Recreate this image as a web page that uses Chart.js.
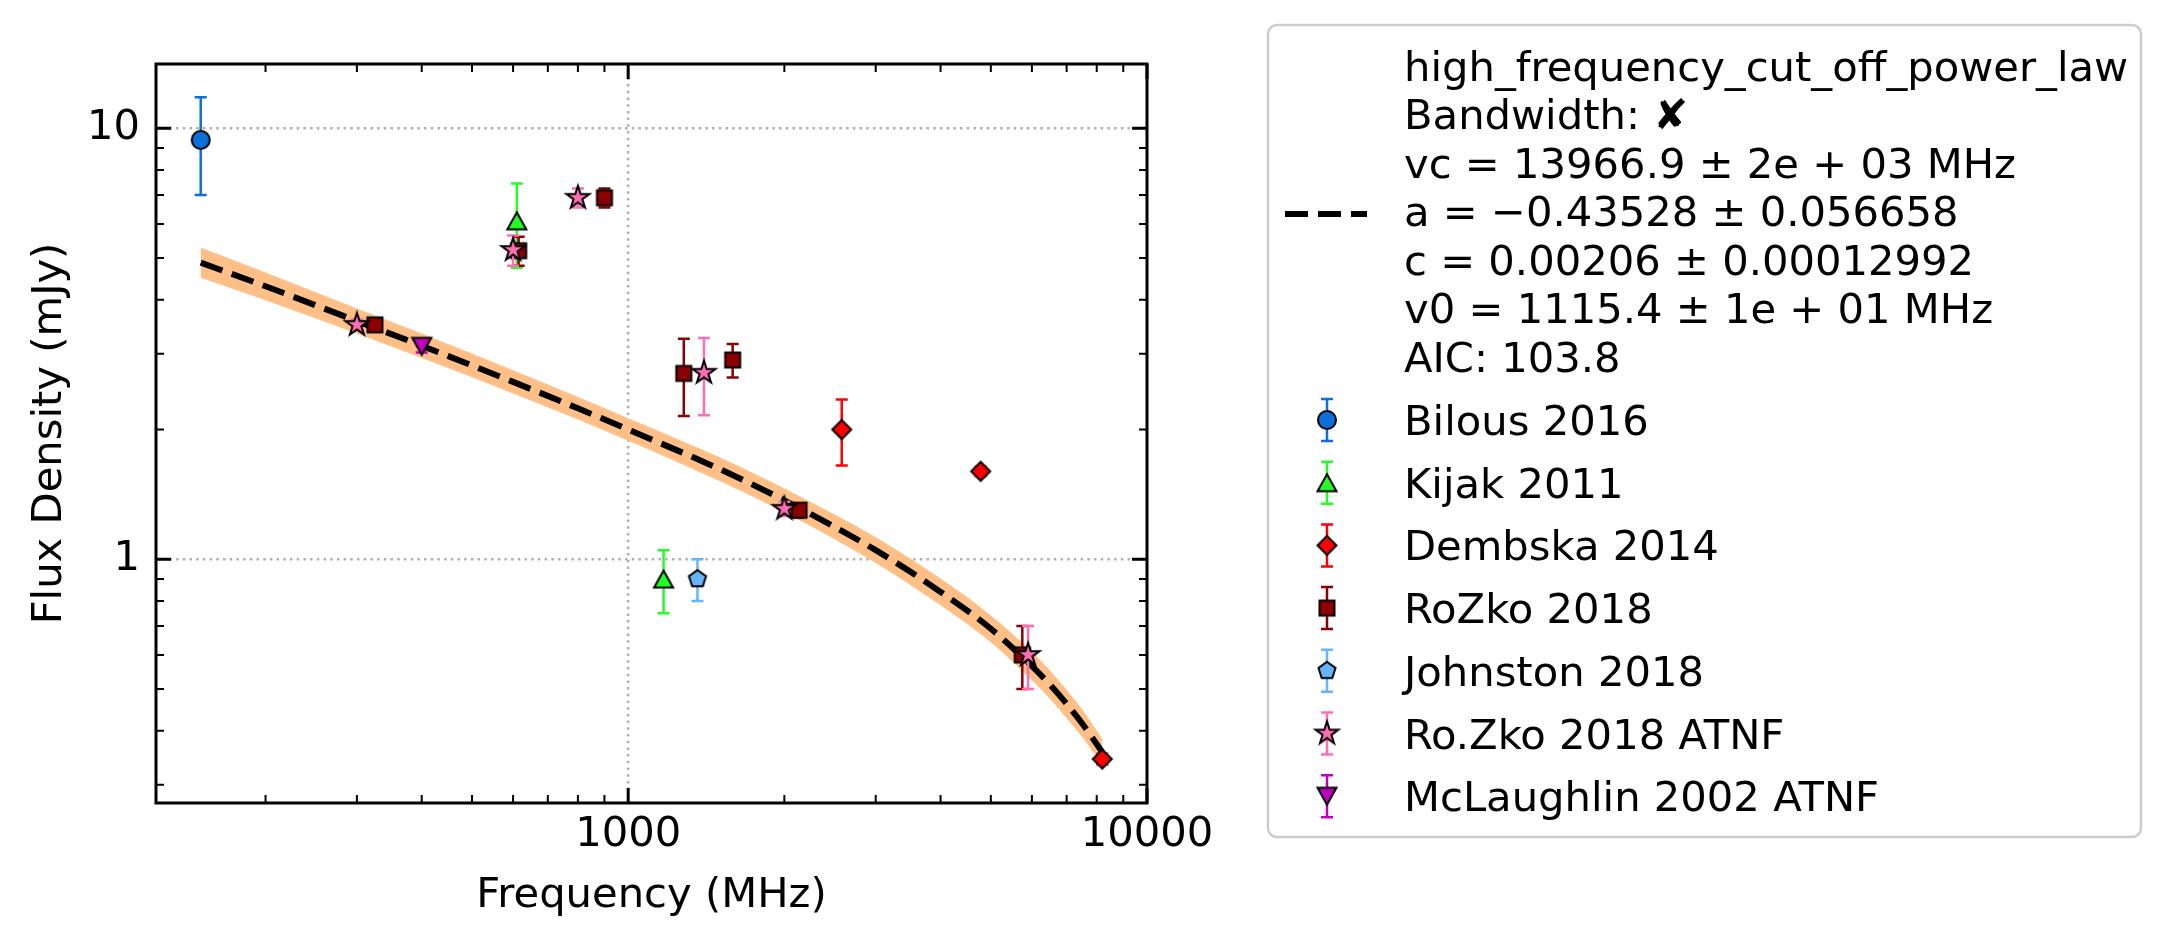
<!DOCTYPE html>
<html>
<head>
<meta charset="utf-8">
<script src="https://cdn.jsdelivr.net/npm/chart.js@4.4.1/dist/chart.umd.min.js"></script>
<style>
  html, body { margin: 0; padding: 0; background: #fff; }
</style>
</head>
<body>
<canvas id="myChart" width="2172" height="948"></canvas>
<script>
// measured points (MHz, mJy, +/- mJy)
var bilousFreq = [150], bilousFlux = [9.4], bilousErr = [2.4]
var kijakFreq = [610, 1170], kijakFlux = [6.1, 0.9], kijakErr = [1.35, 0.15]
var dembskaFreq = [2580, 4780, 8200], dembskaFlux = [2.0, 1.6, 0.344], dembskaErr = [0.35, 0.04, 0.01]
var rozkoFreq = [325, 615, 900, 1280, 1590, 2135, 5750]
var rozkoFlux = [3.5, 5.2, 6.9, 2.7, 2.9, 1.3, 0.6]
var rozkoErr = [0.08, 0.4, 0.35, 0.55, 0.26, 0.05, 0.1]
var johnstonFreq = [1360], johnstonFlux = [0.9], johnstonErr = [0.1]
var rozkoAtnfFreq = [300, 600, 800, 1400, 2000, 5900]
var rozkoAtnfFlux = [3.5, 5.22, 6.9, 2.71, 1.31, 0.6]
var rozkoAtnfErr = [0.1, 0.42, 0.35, 0.55, 0.05, 0.1]
var mclFreq = [400], mclFlux = [3.12], mclErr = [0.1]

// fitted curve and its band
var fitFreq = [150, 200, 300, 400, 600, 800, 1000, 1500, 2000, 3000, 4000, 5000, 6000, 6500, 7000, 7500, 8200]
var fitFlux = [4.88, 4.30, 3.57, 3.13, 2.58, 2.24, 2.00, 1.62, 1.37, 1.05, 0.84, 0.69, 0.565, 0.512, 0.462, 0.416, 0.357]
var fitUpper = [5.29, 4.63, 3.82, 3.34, 2.745, 2.38, 2.125, 1.725, 1.46, 1.125, 0.902, 0.741, 0.61, 0.552, 0.498, 0.448, 0.383]
var fitLower = [4.50, 3.99, 3.34, 2.93, 2.425, 2.11, 1.885, 1.52, 1.285, 0.98, 0.782, 0.642, 0.524, 0.475, 0.428, 0.387, 0.333]

var fitText = [
  'high_frequency_cut_off_power_law',
  'Bandwidth: \u2718',
  'vc = 13966.9 \u00b1 2e + 03 MHz',
  'a = \u22120.43528 \u00b1 0.056658',
  'c = 0.00206 \u00b1 0.00012992',
  'v0 = 1115.4 \u00b1 1e + 01 MHz',
  'AIC: 103.8'
]

var xTicks = [1000, 10000], yTicks = [1, 10]

var FONT = "'DejaVu Sans', sans-serif"
var FS = 41.7

function makeMarker(shape, fill) {
  let c = document.createElement('canvas')
  c.width = 34; c.height = 34
  let g = c.getContext('2d')
  g.translate(17, 17)
  g.beginPath()
  if (shape == 'circle') {
    g.arc(0, 0, 9, 0, Math.PI * 2)
  } else if (shape == 'up') {
    g.moveTo(0, -8.5); g.lineTo(9.5, 8.5); g.lineTo(-9.5, 8.5); g.closePath()
  } else if (shape == 'down') {
    g.moveTo(0, 8.5); g.lineTo(9.5, -8.5); g.lineTo(-9.5, -8.5); g.closePath()
  } else if (shape == 'diamond') {
    g.moveTo(0, -9.5); g.lineTo(9.5, 0); g.lineTo(0, 9.5); g.lineTo(-9.5, 0); g.closePath()
  } else if (shape == 'square') {
    g.rect(-7.5, -7.5, 15, 15)
  } else if (shape == 'pentagon') {
    for (let k = 0; k < 5; k++) {
      let t = -Math.PI / 2 + k * 2 * Math.PI / 5
      k == 0 ? g.moveTo(9 * Math.cos(t), 9 * Math.sin(t)) : g.lineTo(9 * Math.cos(t), 9 * Math.sin(t))
    }
    g.closePath()
  } else if (shape == 'star') {
    for (let k = 0; k < 10; k++) {
      let r = k % 2 ? 4.6 : 12
      let t = -Math.PI / 2 + k * Math.PI / 5
      k == 0 ? g.moveTo(r * Math.cos(t), r * Math.sin(t)) : g.lineTo(r * Math.cos(t), r * Math.sin(t))
    }
    g.closePath()
  }
  g.fillStyle = fill
  g.fill()
  g.lineWidth = 2
  g.strokeStyle = '#000'
  g.stroke()
  return c
}

var groups = [
  {label: 'Bilous 2016', freq: bilousFreq, flux: bilousFlux, err: bilousErr, color: '#0d6fdc', shape: 'circle'},
  {label: 'Kijak 2011', freq: kijakFreq, flux: kijakFlux, err: kijakErr, color: '#22ff22', shape: 'up'},
  {label: 'Dembska 2014', freq: dembskaFreq, flux: dembskaFlux, err: dembskaErr, color: '#ff0000', shape: 'diamond'},
  {label: 'RoZko 2018', freq: rozkoFreq, flux: rozkoFlux, err: rozkoErr, color: '#8b0000', shape: 'square'},
  {label: 'Johnston 2018', freq: johnstonFreq, flux: johnstonFlux, err: johnstonErr, color: '#66b3ff', shape: 'pentagon'},
  {label: 'Ro.Zko 2018 ATNF', freq: rozkoAtnfFreq, flux: rozkoAtnfFlux, err: rozkoAtnfErr, color: '#ff6eb4', shape: 'star'},
  {label: 'McLaughlin 2002 ATNF', freq: mclFreq, flux: mclFlux, err: mclErr, color: '#c000c0', shape: 'down'}
]

function points(fx, fy) {
  return fx.map((v, i) => ({x: v, y: fy[i]}))
}

var datasets = [
  {type: 'line', data: points(fitFreq, fitUpper), borderWidth: 0, pointRadius: 0, fill: '+1',
   backgroundColor: '#ffbf86', cubicInterpolationMode: 'monotone', order: 30},
  {type: 'line', data: points(fitFreq, fitLower), borderWidth: 0, pointRadius: 0, fill: false,
   cubicInterpolationMode: 'monotone', order: 31},
  {type: 'line', data: points(fitFreq, fitFlux), borderColor: '#000', borderWidth: 6, borderDash: [23, 10],
   borderCapStyle: 'butt', pointRadius: 0, fill: false, cubicInterpolationMode: 'monotone', order: 20}
]

groups.forEach((g, i) => {
  g.marker = makeMarker(g.shape, g.color)
  datasets.push({
    type: 'scatter',
    label: g.label,
    data: points(g.freq, g.flux),
    errors: g.err,
    barColor: g.color,
    marker: g.marker,
    pointStyle: g.marker,
    pointRadius: 10,
    order: groups.length - i
  })
})

function minorValues(min, max) {
  let out = []
  for (let e = Math.floor(Math.log10(min)); e <= Math.ceil(Math.log10(max)); e++)
    for (let m = 2; m < 10; m++) {
      let v = m * Math.pow(10, e)
      if (v > min && v < max) out.push(v)
    }
  return out
}

function drawErrorBar(ctx, px, top, bot, color) {
  ctx.strokeStyle = color
  ctx.lineWidth = 2.5
  ctx.beginPath()
  ctx.moveTo(px, top); ctx.lineTo(px, bot)
  ctx.moveTo(px - 6, top); ctx.lineTo(px + 6, top)
  ctx.moveTo(px - 6, bot); ctx.lineTo(px + 6, bot)
  ctx.stroke()
}

const errorBars = {
  id: 'errorBars',
  beforeDatasetDraw(chart, args) {
    const ds = chart.data.datasets[args.index]
    if (!ds.errors) return
    const {ctx, scales: {x, y}} = chart
    ctx.save()
    ds.data.forEach((p, i) => {
      drawErrorBar(ctx, x.getPixelForValue(p.x), y.getPixelForValue(p.y + ds.errors[i]),
        y.getPixelForValue(p.y - ds.errors[i]), ds.barColor)
    })
    ctx.restore()
  }
}

const axisDecor = {
  id: 'axisDecor',
  beforeDatasetsDraw(chart) {
    const {ctx, chartArea: a, scales: {x, y}} = chart
    ctx.save()
    ctx.strokeStyle = '#b0b0b0'
    ctx.lineWidth = 2.5
    ctx.setLineDash([2.5, 4.2])
    xTicks.forEach(v => {
      let px = x.getPixelForValue(v)
      if (px > a.left + 2 && px < a.right - 2) {
        ctx.beginPath(); ctx.moveTo(px, a.top); ctx.lineTo(px, a.bottom); ctx.stroke()
      }
    })
    yTicks.forEach(v => {
      let py = y.getPixelForValue(v)
      if (py > a.top + 2 && py < a.bottom - 2) {
        ctx.beginPath(); ctx.moveTo(a.left, py); ctx.lineTo(a.right, py); ctx.stroke()
      }
    })
    ctx.restore()
  },
  afterDatasetsDraw(chart) {
    const {ctx, chartArea: a, scales: {x, y}} = chart
    ctx.save()
    ctx.strokeStyle = '#000'
    function xt(v, len, w) {
      let px = x.getPixelForValue(v)
      ctx.lineWidth = w
      ctx.beginPath()
      ctx.moveTo(px, a.bottom); ctx.lineTo(px, a.bottom - len)
      ctx.moveTo(px, a.top); ctx.lineTo(px, a.top + len)
      ctx.stroke()
    }
    function yt(v, len, w) {
      let py = y.getPixelForValue(v)
      ctx.lineWidth = w
      ctx.beginPath()
      ctx.moveTo(a.left, py); ctx.lineTo(a.left + len, py)
      ctx.moveTo(a.right, py); ctx.lineTo(a.right - len, py)
      ctx.stroke()
    }
    minorValues(x.min, x.max).forEach(v => xt(v, 8, 2))
    minorValues(y.min, y.max).forEach(v => yt(v, 8, 2))
    xTicks.forEach(v => xt(v, 15, 3))
    yTicks.forEach(v => yt(v, 15, 3))
    ctx.lineWidth = 3
    ctx.strokeRect(a.left, a.top, a.right - a.left, a.bottom - a.top)
    ctx.restore()
  }
}

const sideLegend = {
  id: 'sideLegend',
  afterDraw(chart) {
    const ctx = chart.ctx
    ctx.save()
    let L = 1268, T = 25, R = 2141, B = 837, r = 9
    ctx.beginPath()
    ctx.moveTo(L + r, T); ctx.arcTo(R, T, R, B, r); ctx.arcTo(R, B, L, B, r)
    ctx.arcTo(L, B, L, T, r); ctx.arcTo(L, T, R, T, r); ctx.closePath()
    ctx.fillStyle = 'rgba(255,255,255,0.8)'
    ctx.fill()
    ctx.strokeStyle = '#cccccc'
    ctx.lineWidth = 2.5
    ctx.stroke()

    ctx.font = FS + 'px ' + FONT
    ctx.fillStyle = '#000'
    ctx.textAlign = 'left'
    ctx.textBaseline = 'alphabetic'
    fitText.forEach((t, i) => ctx.fillText(t, 1404, 80.7 + i * 48.5))

    ctx.strokeStyle = '#000'
    ctx.lineWidth = 6
    ctx.setLineDash([23, 10])
    ctx.beginPath(); ctx.moveTo(1285, 214); ctx.lineTo(1367, 214); ctx.stroke()
    ctx.setLineDash([])

    let items = chart.data.datasets.filter(d => d.errors)
    items.forEach((d, i) => {
      let base = 435 + i * 62.7
      let cy = base - 15
      drawErrorBar(ctx, 1327, cy - 21, cy + 21, d.barColor)
      ctx.drawImage(d.marker, 1327 - d.marker.width / 2, cy - d.marker.height / 2)
      ctx.fillStyle = '#000'
      ctx.fillText(d.label, 1404, base)
    })
    ctx.restore()
  }
}

Chart.defaults.font.family = FONT
Chart.defaults.color = '#000'

let ctx = document.getElementById('myChart').getContext('2d')
let myChart = new Chart(ctx, {
  type: 'scatter',
  data: {datasets: datasets},
  options: {
    responsive: false,
    animation: false,
    devicePixelRatio: 1,
    events: [],
    layout: {padding: {top: 64, right: 1025, left: 0, bottom: 0}},
    plugins: {legend: {display: false}, tooltip: {enabled: false}},
    scales: {
      x: {
        type: 'logarithmic',
        min: 123, max: 10000,
        afterBuildTicks: s => { s.ticks = xTicks.map(v => ({value: v})) },
        afterFit: s => { s.height = 145 },
        grid: {display: false, drawTicks: false, tickLength: 0},
        border: {display: false},
        ticks: {autoSkip: false, maxRotation: 0, minRotation: 0, padding: 7,
                font: {size: FS}, color: '#000', callback: v => String(v)},
        title: {display: true, text: 'Frequency (MHz)', font: {size: FS}, color: '#000',
                padding: {top: 0, bottom: 27}}
      },
      y: {
        type: 'logarithmic',
        min: 0.272, max: 14.1,
        afterBuildTicks: s => { s.ticks = yTicks.map(v => ({value: v})) },
        afterFit: s => { s.width = 156 },
        grid: {display: false, drawTicks: false, tickLength: 0},
        border: {display: false},
        ticks: {autoSkip: false, padding: 16, font: {size: FS}, color: '#000', callback: v => String(v)},
        title: {display: true, text: 'Flux Density (mJy)', font: {size: FS}, color: '#000',
                padding: {top: 25, bottom: 0}}
      }
    }
  },
  plugins: [errorBars, axisDecor, sideLegend]
})
</script>
</body>
</html>
